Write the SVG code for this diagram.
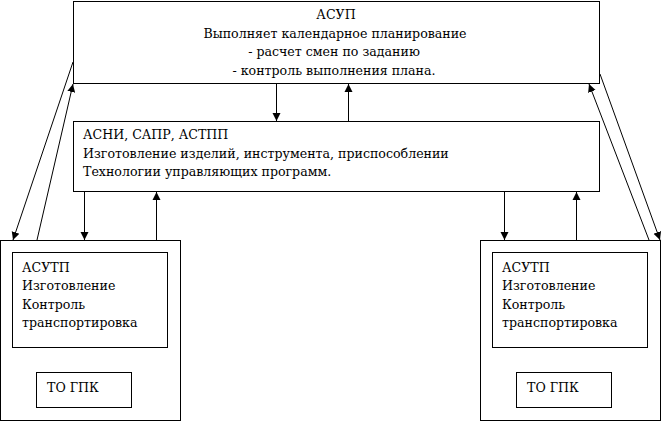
<svg xmlns="http://www.w3.org/2000/svg" width="664" height="421" viewBox="0 0 664 421">
<style>
rect{fill:#fff;stroke:#000;stroke-width:1}
text{font-family:"DejaVu Serif",serif;font-size:12.6px;fill:#000}
.c{text-anchor:middle}
line{stroke:#000;stroke-width:1}
</style>
<defs>
<marker id="a" viewBox="0 0 10 10" refX="10" refY="5" markerWidth="8" markerHeight="10" markerUnits="userSpaceOnUse" orient="auto">
<path d="M0,0L10,5L0,10z" fill="#000"/>
</marker>
</defs>
<rect x="0" y="0" width="664" height="421" style="stroke:none"/>
<g id="asup">
<rect x="73.5" y="1.5" width="526" height="82"/>
<text class="c" x="336" y="19">АСУП</text>
<text class="c" x="335" y="38">Выполняет календарное планирование</text>
<text class="c" x="334" y="56">- расчет смен по заданию</text>
<text class="c" x="334" y="75">- контроль выполнения плана.</text>
</g>
<g id="asni">
<rect x="73.5" y="121.5" width="526" height="70"/>
<text x="83" y="139">АСНИ, САПР, АСТПП</text>
<text x="83" y="158">Изготовление изделий, инструмента, приспособлении</text>
<text x="83" y="176">Технологии управляющих программ.</text>
</g>
<g id="left">
<rect x="0.5" y="240.5" width="180" height="180"/>
<rect x="12.5" y="252.5" width="155" height="95"/>
<text x="22" y="272">АСУТП</text>
<text x="22" y="290">Изготовление</text>
<text x="22" y="309">Контроль</text>
<text x="22" y="327">транспортировка</text>
<rect x="36.5" y="372.5" width="95" height="35"/>
<text x="47" y="392">ТО ГПК</text>
</g>
<g id="right">
<rect x="480.5" y="240.5" width="180" height="180"/>
<rect x="492.5" y="252.5" width="155" height="95"/>
<text x="502" y="272">АСУТП</text>
<text x="502" y="290">Изготовление</text>
<text x="502" y="309">Контроль</text>
<text x="502" y="327">транспортировка</text>
<rect x="516.5" y="372.5" width="95" height="35"/>
<text x="527" y="392">ТО ГПК</text>
</g>
<g id="connectors" marker-end="url(#a)">
<line x1="276.5" y1="84" x2="276.5" y2="121"/>
<line x1="348.5" y1="121" x2="348.5" y2="84"/>
<line x1="84.5" y1="192" x2="84.5" y2="240"/>
<line x1="156.5" y1="240" x2="156.5" y2="192"/>
<line x1="504.5" y1="192" x2="504.5" y2="240"/>
<line x1="576.5" y1="240" x2="576.5" y2="192"/>
<line x1="73" y1="62" x2="13" y2="240"/>
<line x1="37" y1="240" x2="73" y2="84"/>
<line x1="600" y1="74" x2="660" y2="240"/>
<line x1="649" y1="240" x2="589" y2="84"/>
</g>
</svg>
